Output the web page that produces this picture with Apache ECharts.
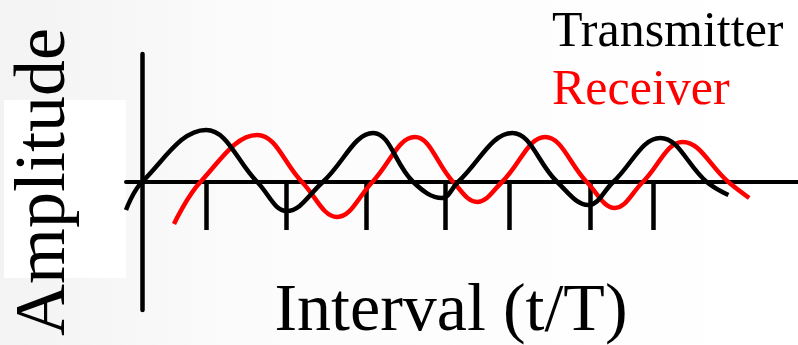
<!DOCTYPE html>
<html>
<head>
<meta charset="utf-8">
<script src="https://cdn.jsdelivr.net/npm/echarts@6/dist/echarts.min.js"></script>
<style>
  html, body { margin: 0; padding: 0; background: #fff; }
  #main { width: 798px; height: 345px; }
</style>
</head>
<body>
<div id="main"></div>
<script>
// x in t/T units, y in amplitude units
const transmitterX = [-0.2, 0, 0.8, 1.44, 1.81, 2.26, 2.89, 3.39, 3.75, 3.95, 4.63, 5.19, 5.58, 5.89, 6.48, 7.06, 7.33]
const transmitterY = [-0.56, 0, 1.04, 0, -0.58, 0, 0.98, 0, -0.32, 0, 0.98, 0, -0.46, 0, 0.88, 0, -0.26]
const receiverX = [0.4, 0.73, 1.44, 2.0, 2.44, 2.88, 3.41, 3.89, 4.19, 4.5, 5.04, 5.56, 5.91, 6.26, 6.76, 7.33, 7.59]
const receiverY = [-0.84, 0, 0.94, 0, -0.7, 0, 0.9, 0, -0.4, 0, 0.9, 0, -0.52, 0, 0.8, 0, -0.32]
const tickValues = [0.8, 1.8, 2.8, 3.79, 4.59, 5.6, 6.39]

const pair = (xs, ys) => xs.map((x, i) => [x, ys[i]])

const chart = echarts.init(document.getElementById('main'))
const serif = 'Liberation Serif'

const option = {
    animation: false,
    backgroundColor: {
        type: 'linear', x: 0, y: 0, x2: 1, y2: 0,
        colorStops: [
            { offset: 0, color: '#f3f3f3' },
            { offset: 0.35, color: '#fcfcfc' },
            { offset: 1, color: '#ffffff' }
        ]
    },
    graphic: [{
        type: 'rect',
        left: 4, top: 100,
        shape: { width: 122, height: 178 },
        style: { fill: '#ffffff' },
        z: -1
    }],
    legend: {
        orient: 'vertical',
        left: 541,
        top: 3,
        itemWidth: 0,
        itemHeight: 0,
        itemGap: 8,
        itemStyle: { opacity: 0 },
        lineStyle: { opacity: 0 },
        selectedMode: false,
        textStyle: { fontFamily: serif, fontSize: 50 },
        data: [
            { name: 'Transmitter', textStyle: { color: '#000000' } },
            { name: 'Receiver', textStyle: { color: '#ff0000' } }
        ]
    },
    grid: {
        left: 126,
        right: 0,
        top: 54,
        bottom: 35,
        containLabel: false,
        outerBoundsMode: 'none'
    },
    xAxis: {
        type: 'value',
        min: -0.2,
        max: 8.2,
        name: 'Interval (t/T)',
        nameLocation: 'middle',
        nameGap: -32,
        nameTextStyle: { fontFamily: serif, fontSize: 68, color: '#000', padding: [0, 22, 0, 0] },
        axisLine: { onZero: true, lineStyle: { color: '#000', width: 4 } },
        axisTick: { show: true, customValues: tickValues, length: 48, lineStyle: { color: '#000', width: 4.5 } },
        axisLabel: { show: false },
        splitLine: { show: false }
    },
    yAxis: {
        type: 'value',
        min: -2.56,
        max: 2.56,
        name: 'Amplitude',
        nameLocation: 'middle',
        nameRotate: 90,
        nameGap: 45,
        nameTextStyle: { fontFamily: serif, fontSize: 72, color: '#000' },
        axisLine: { show: true, onZero: true, lineStyle: { color: '#000', width: 4.5 } },
        axisTick: { show: false },
        axisLabel: { show: false },
        splitLine: { show: false }
    },
    series: [
        {
            name: 'Transmitter',
            type: 'line',
            smooth: 0.4,
            symbol: 'none',
            color: '#000000',
            lineStyle: { width: 4.5, color: '#000000' },
            data: pair(transmitterX, transmitterY),
            z: 3
        },
        {
            name: 'Receiver',
            type: 'line',
            smooth: 0.4,
            symbol: 'none',
            color: '#ff0000',
            lineStyle: { width: 4.5, color: '#ff0000' },
            data: pair(receiverX, receiverY),
            z: 2
        }
    ]
}

chart.setOption(option)
window.addEventListener('resize', () => {
    chart.resize()
})
</script>
</body>
</html>
